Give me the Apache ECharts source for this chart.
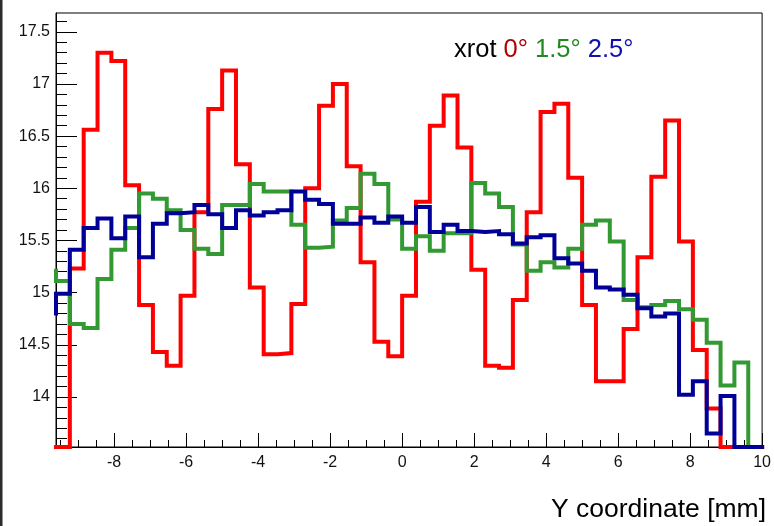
<!DOCTYPE html>
<html>
<head>
<meta charset="utf-8">
<script src="https://cdn.jsdelivr.net/npm/echarts@6/dist/echarts.min.js"></script>
<style>
html,body{margin:0;padding:0;background:#fff;}
#chart{width:774px;height:526px;}
</style>
</head>
<body>
<div id="chart"></div>
<script>
// ---------------- DATA ----------------
// Histogram binning: 52 bins over [-10, 10]; index 0 is the (hidden) first bin left of the axis range.
const histLow = -10;
const histHigh = 10;
const histBins = 52;

// Bin contents (index 0 = bin just left of the visible range)
const xrot0 = [13.52, 13.52, 15.23, 16.56, 17.30, 17.22, 16.03, 14.88, 14.43, 14.30,
               14.97, 15.77, 16.76, 17.13, 16.23, 15.05, 14.41, 14.42, 14.89, 16.00,
               16.79, 17.00, 16.21, 15.29, 14.53, 14.39, 14.97, 15.87, 16.60, 16.89,
               16.39, 15.22, 14.30, 14.28, 14.93, 15.77, 16.73, 16.81, 16.10, 14.88,
               14.15, 14.15, 14.65, 15.34, 16.11, 16.65, 15.49, 14.45, 13.89, 13.52,
               13.52, 13.52];
const xrot15 = [15.21, 15.11, 14.70, 14.66, 15.13, 15.41, 15.62, 15.95, 15.90, 15.79,
                15.60, 15.42, 15.37, 15.84, 15.84, 16.04, 15.97, 15.97, 15.65, 15.43,
                15.44, 15.69, 15.81, 16.14, 16.04, 15.70, 15.42, 15.54, 15.40, 15.57,
                15.57, 16.05, 15.95, 15.82, 15.46, 15.21, 15.29, 15.24, 15.42, 15.65,
                15.69, 15.49, 14.93, 14.86, 14.88, 14.92, 14.84, 14.74, 14.52, 14.11,
                14.33, 13.52];
const xrot25 = [14.80, 14.99, 15.41, 15.62, 15.71, 15.52, 15.73, 15.34, 15.66, 15.76,
                15.77, 15.84, 15.75, 15.62, 15.79, 15.74, 15.77, 15.79, 15.97, 15.89,
                15.85, 15.66, 15.66, 15.72, 15.67, 15.73, 15.67, 15.82, 15.58, 15.65,
                15.59, 15.58, 15.59, 15.56, 15.47, 15.53, 15.55, 15.33, 15.28, 15.21,
                15.05, 15.03, 14.98, 14.85, 14.77, 14.80, 14.02, 14.15, 13.65, 14.01,
                13.52, 13.52];

// Axis ranges and tick labels
const xRangeMax = 10;
const yRangeMin = 13.52;
const yRangeMax = 17.68;
const xTickLabels = [-8, -6, -4, -2, 0, 2, 4, 6, 8, 10];
const yTickLabels = [14, 14.5, 15, 15.5, 16, 16.5, 17, 17.5];
const seriesNames = ['0°', '1.5°', '2.5°'];
const legendPrefix = 'xrot';
const xTitle = 'Y coordinate [mm]';

// ---------------- BUILD ----------------
const binWidth = (histHigh - histLow) / histBins;
const edge = k => histLow + k * binWidth;
const xRangeMin = edge(1);

function histPath(vals) {
  const pts = [[edge(1), vals[0]]];
  for (let k = 1; k < vals.length; k++) {
    pts.push([edge(k), vals[k]]);
    pts.push([edge(k + 1), vals[k]]);
  }
  return pts;
}

const xMinor = [];
for (let i = Math.ceil(xRangeMin * 2); i <= xRangeMax * 2; i++) {
  if (i % 4 !== 0) xMinor.push(i / 2);
}
const yMinor = [];
for (let i = Math.ceil(yRangeMin * 10); i <= Math.floor(yRangeMax * 10); i++) {
  if (i % 5 !== 0) yMinor.push(i / 10);
}

const FONT = 'Liberation Sans, Arial, Helvetica, sans-serif';
const colors = ['#ff0000', '#339933', '#000099'];
const textColors = ['#b00000', '#1f8a1f', '#1010b0'];

const chart = echarts.init(document.getElementById('chart'), null, {renderer: 'canvas'});

const hidden = {show: false};
const option = {
  animation: false,
  backgroundColor: '#ffffff',
  grid: {left: 56, right: 7, top: 13, bottom: 79, show: true, borderColor: '#000', borderWidth: 1, backgroundColor: '#fff'},
  xAxis: [
    {
      type: 'value', min: xRangeMin, max: xRangeMax, position: 'bottom',
      axisLine: {show: true, onZero: false, lineStyle: {color: '#000', width: 1}},
      axisTick: {show: true, inside: true, length: 14, customValues: xTickLabels, lineStyle: {color: '#000', width: 1}},
      axisLabel: {show: true, customValues: xTickLabels, color: '#111', fontFamily: FONT, fontSize: 16, margin: 8,
                  formatter: v => String(v)},
      splitLine: hidden
    },
    {
      type: 'value', min: xRangeMin, max: xRangeMax, position: 'bottom',
      axisLine: {show: false, onZero: false},
      axisTick: {show: true, inside: true, length: 7, customValues: xMinor, lineStyle: {color: '#000', width: 1}},
      axisLabel: hidden, splitLine: hidden
    }
  ],
  yAxis: [
    {
      type: 'value', min: yRangeMin, max: yRangeMax, position: 'left',
      axisLine: {show: true, onZero: false, lineStyle: {color: '#000', width: 1}},
      axisTick: {show: true, inside: true, length: 21, customValues: yTickLabels, lineStyle: {color: '#000', width: 1}},
      axisLabel: {show: true, customValues: yTickLabels, color: '#111', fontFamily: FONT, fontSize: 16, margin: 6,
                  formatter: v => String(v)},
      splitLine: hidden
    },
    {
      type: 'value', min: yRangeMin, max: yRangeMax, position: 'left',
      axisLine: {show: false, onZero: false},
      axisTick: {show: true, inside: true, length: 11, customValues: yMinor, lineStyle: {color: '#000', width: 1}},
      axisLabel: hidden, splitLine: hidden
    }
  ],
  series: [xrot0, xrot15, xrot25].map((vals, i) => ({
    name: seriesNames[i],
    type: 'line',
    xAxisIndex: 0, yAxisIndex: 0,
    data: histPath(vals),
    symbol: 'none',
    clip: false,
    z: 2 + i,
    lineStyle: {color: colors[i], width: 4, join: 'miter', cap: 'square'}
  })),
  graphic: [
    {type: 'rect', left: 0, top: 0, shape: {width: 2.5, height: 526}, style: {fill: '#2b2b2b'}, z: 10},
    {
      type: 'text', left: 454, top: 37, z: 10,
      style: {
        text: legendPrefix + ' {r|' + seriesNames[0] + '} {g|' + seriesNames[1] + '} {b|' + seriesNames[2] + '}',
        fill: '#000', font: '25.5px ' + FONT,
        rich: {
          r: {fill: textColors[0], fontSize: 25.5, fontFamily: FONT},
          g: {fill: textColors[1], fontSize: 25.5, fontFamily: FONT},
          b: {fill: textColors[2], fontSize: 25.5, fontFamily: FONT}
        }
      }
    },
    {
      type: 'text', right: 8, top: 496, z: 10,
      style: {text: xTitle, fill: '#000', font: '26.5px ' + FONT}
    }
  ]
};
chart.setOption(option);
</script>
</body>
</html>
